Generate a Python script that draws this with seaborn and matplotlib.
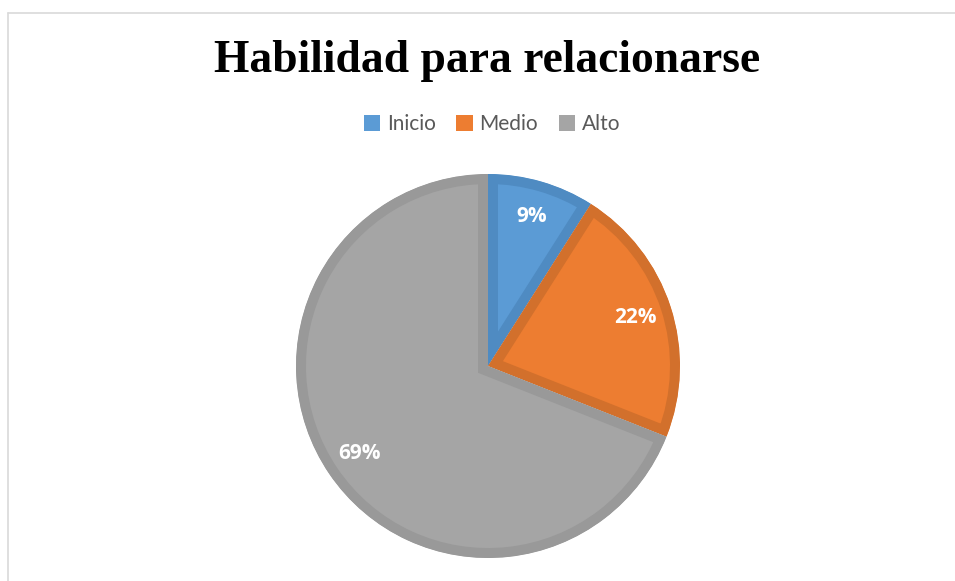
import matplotlib
matplotlib.use("Agg")
import matplotlib.pyplot as plt
import seaborn as sns
from matplotlib.patches import Patch
from matplotlib.lines import Line2D

categories = ["Inicio", "Medio", "Alto"]
values = [9, 22, 69]
fill_colors = ["#5b9bd5", "#ed7d31", "#a5a5a5"]
edge_colors = ["#4f8bc2", "#d2702c", "#999999"]
title = "Habilidad para relacionarse"

sns.set_theme(style="white")
plt.rcParams['font.family'] = ['Open Sans', 'DejaVu Sans']

W, H = 955, 581
fig = plt.figure(figsize=(W / 100, H / 100), dpi=100)
fig.patch.set_facecolor("white")

cx, cy, r = 488, 366, 192
ax = fig.add_axes([(cx - r) / W, (H - cy - r) / H, 2 * r / W, 2 * r / H])
palette = sns.color_palette(fill_colors)

wedges, texts, autotexts = ax.pie(
    values, colors=palette, startangle=90, counterclock=False,
    autopct=lambda p: f"{p:.0f}%", pctdistance=0.81, radius=1,
    wedgeprops=dict(linewidth=14.4, antialiased=True),
    textprops=dict(color="white", fontsize=15, fontweight="bold",
                   family=["Open Sans", "DejaVu Sans"]))
for w, ec in zip(wedges, edge_colors):
    w.set_edgecolor(ec)
    w.set_clip_path(w.get_path(), w.get_transform())
    w.set_clip_on(True)
ax.set_xlim(-1, 1)
ax.set_ylim(-1, 1)
ax.axis("off")

fig.text(487.5 / W, 1 - 72 / H, title, ha="center", va="baseline",
         fontsize=32.8, fontweight="bold", family=["Liberation Serif", "DejaVu Serif"],
         color="black")

handles = [Patch(facecolor=c, edgecolor="none") for c in fill_colors]
leg = fig.legend(handles, categories, loc="center", bbox_to_anchor=(492 / W, 1 - 124 / H),
                 ncol=3, frameon=False, handlelength=0.8, handleheight=0.8,
                 handletextpad=0.3, columnspacing=1.0, borderaxespad=0,
                 prop=dict(family=["Lato", "DejaVu Sans"], size=15))
for t in leg.get_texts():
    t.set_color("#595959")

fx = 8 / W
fy = 1 - 12.5 / H
fig.add_artist(Line2D([fx, fx], [0, fy], transform=fig.transFigure, color="#d9d9d9", lw=1.2))
fig.add_artist(Line2D([fx, 1], [fy, fy], transform=fig.transFigure, color="#d9d9d9", lw=1.2))

fig.savefig("out.png", dpi=100, facecolor="white")
